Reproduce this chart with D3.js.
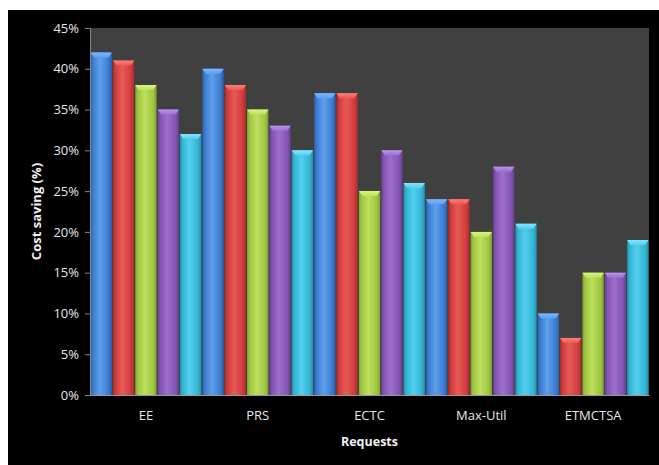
<!DOCTYPE html>
<html>
<head>
<meta charset="utf-8">
<script src="https://cdn.jsdelivr.net/npm/d3@7/dist/d3.min.js"></script>
<style>
  html, body { margin: 0; padding: 0; background: #ffffff; }
  svg { display: block; }
</style>
</head>
<body>
<script>
// Cost saving per request type, one bar per method (5 methods)
const categories = ["EE", "PRS", "ECTC", "Max-Util", "ETMCTSA"];
const seriesNames = ["S1", "S2", "S3", "S4", "S5"];
const s1 = [42, 40, 37, 24, 10];
const s2 = [41, 38, 37, 24, 7];
const s3 = [38, 35, 25, 20, 15];
const s4 = [35, 33, 30, 28, 15];
const s5 = [32, 30, 26, 21, 19];
const seriesValues = [s1, s2, s3, s4, s5];
const yTicks = [0, 5, 10, 15, 20, 25, 30, 35, 40, 45];

const palette = [
  { base: "#3a7bd0", light: "#5fa0ec", dark: "#2a5fa8", cap: "#7bb8ff" },
  { base: "#cf3b3b", light: "#e85a56", dark: "#a52b2b", cap: "#ff7d78" },
  { base: "#9fc540", light: "#bde05e", dark: "#7e9e2e", cap: "#d9f57e" },
  { base: "#8054b0", light: "#9c70cc", dark: "#633f8c", cap: "#bd94ec" },
  { base: "#32b4d4", light: "#55d0ee", dark: "#248ea9", cap: "#82e6ff" }
];

const W = 659, H = 465;
const svg = d3.select("body").append("svg").attr("width", W).attr("height", H);

// white margin, then black chart area
svg.append("rect").attr("width", W).attr("height", H).attr("fill", "#ffffff");
svg.append("rect").attr("x", 8).attr("y", 10).attr("width", W - 8).attr("height", H - 10).attr("fill", "#000000");

const plot = { left: 90, top: 28, right: 649, bottom: 395 };

svg.append("rect")
  .attr("x", plot.left).attr("y", plot.top)
  .attr("width", plot.right - plot.left).attr("height", plot.bottom - plot.top)
  .attr("fill", "#404040");

const x0 = d3.scaleBand().domain(categories).range([plot.left, plot.right]).padding(0);
const x1 = d3.scaleBand().domain(seriesNames).range([0, x0.bandwidth()]).padding(0);
const y = d3.scaleLinear().domain([0, 45]).range([plot.bottom, plot.top]);

// gradients: lighter in the middle, darker at the edges
const defs = svg.append("defs");
palette.forEach((p, i) => {
  const g = defs.append("linearGradient").attr("id", "bar" + i)
    .attr("x1", "0%").attr("x2", "100%").attr("y1", "0%").attr("y2", "0%");
  g.append("stop").attr("offset", "0%").attr("stop-color", p.dark);
  g.append("stop").attr("offset", "12%").attr("stop-color", p.base);
  g.append("stop").attr("offset", "45%").attr("stop-color", p.light);
  g.append("stop").attr("offset", "85%").attr("stop-color", p.base);
  g.append("stop").attr("offset", "100%").attr("stop-color", p.dark);
  const c = defs.append("linearGradient").attr("id", "cap" + i)
    .attr("x1", "0%").attr("x2", "0%").attr("y1", "0%").attr("y2", "100%");
  c.append("stop").attr("offset", "0%").attr("stop-color", p.cap);
  c.append("stop").attr("offset", "100%").attr("stop-color", p.light);
});

const rows = [];
categories.forEach((c, ci) => {
  seriesNames.forEach((s, si) => {
    rows.push({ cat: c, ser: s, si, value: seriesValues[si][ci] });
  });
});

const bars = svg.append("g").selectAll("g.bar").data(rows).join("g").attr("class", "bar")
  .attr("transform", d => `translate(${x0(d.cat) + x1(d.ser)},0)`);

const bw = x1.bandwidth() - 1;
bars.append("rect")
  .attr("x", 0.5)
  .attr("y", d => y(d.value))
  .attr("width", bw)
  .attr("height", d => y(0) - y(d.value))
  .attr("fill", d => `url(#bar${d.si})`);

// bevelled top cap
bars.append("path")
  .attr("d", d => {
    const t = y(d.value);
    return `M0.5,${t} L${bw + 0.5},${t} L${bw - 3},${t + 5} L4,${t + 5} Z`;
  })
  .attr("fill", d => `url(#cap${d.si})`);

// axes
const yAxis = d3.axisLeft(y).tickValues(yTicks).tickFormat(d => d + "%").tickSize(5).tickPadding(6);
const gy = svg.append("g").attr("transform", `translate(${plot.left},0)`).call(yAxis);
gy.select(".domain").attr("stroke", "#888888");
gy.selectAll(".tick line").attr("stroke", "#888888");
gy.selectAll(".tick text").attr("fill", "#e6e6e6")
  .style("font-family", "Open Sans, Noto Sans, sans-serif").style("font-size", "13px");

const xAxis = d3.axisBottom(x0).tickSize(0).tickPadding(16);
const gx = svg.append("g").attr("transform", `translate(0,${plot.bottom})`).call(xAxis);
gx.select(".domain").attr("stroke", "#9a9a9a");
gx.selectAll(".tick text").attr("fill", "#e6e6e6")
  .style("font-family", "Open Sans, Noto Sans, sans-serif").style("font-size", "13px");

svg.append("text")
  .attr("x", (plot.left + plot.right) / 2).attr("y", 446)
  .attr("text-anchor", "middle")
  .attr("fill", "#f2f2f2")
  .style("font-family", "Open Sans, Noto Sans, sans-serif").style("font-size", "12.5px").style("font-weight", "bold")
  .text("Requests");

svg.append("text")
  .attr("transform", `translate(41,${(plot.top + plot.bottom) / 2}) rotate(-90)`)
  .attr("text-anchor", "middle")
  .attr("fill", "#f2f2f2")
  .style("font-family", "Open Sans, Noto Sans, sans-serif").style("font-size", "13px").style("font-weight", "bold")
  .text("Cost saving (%)");
</script>
</body>
</html>
